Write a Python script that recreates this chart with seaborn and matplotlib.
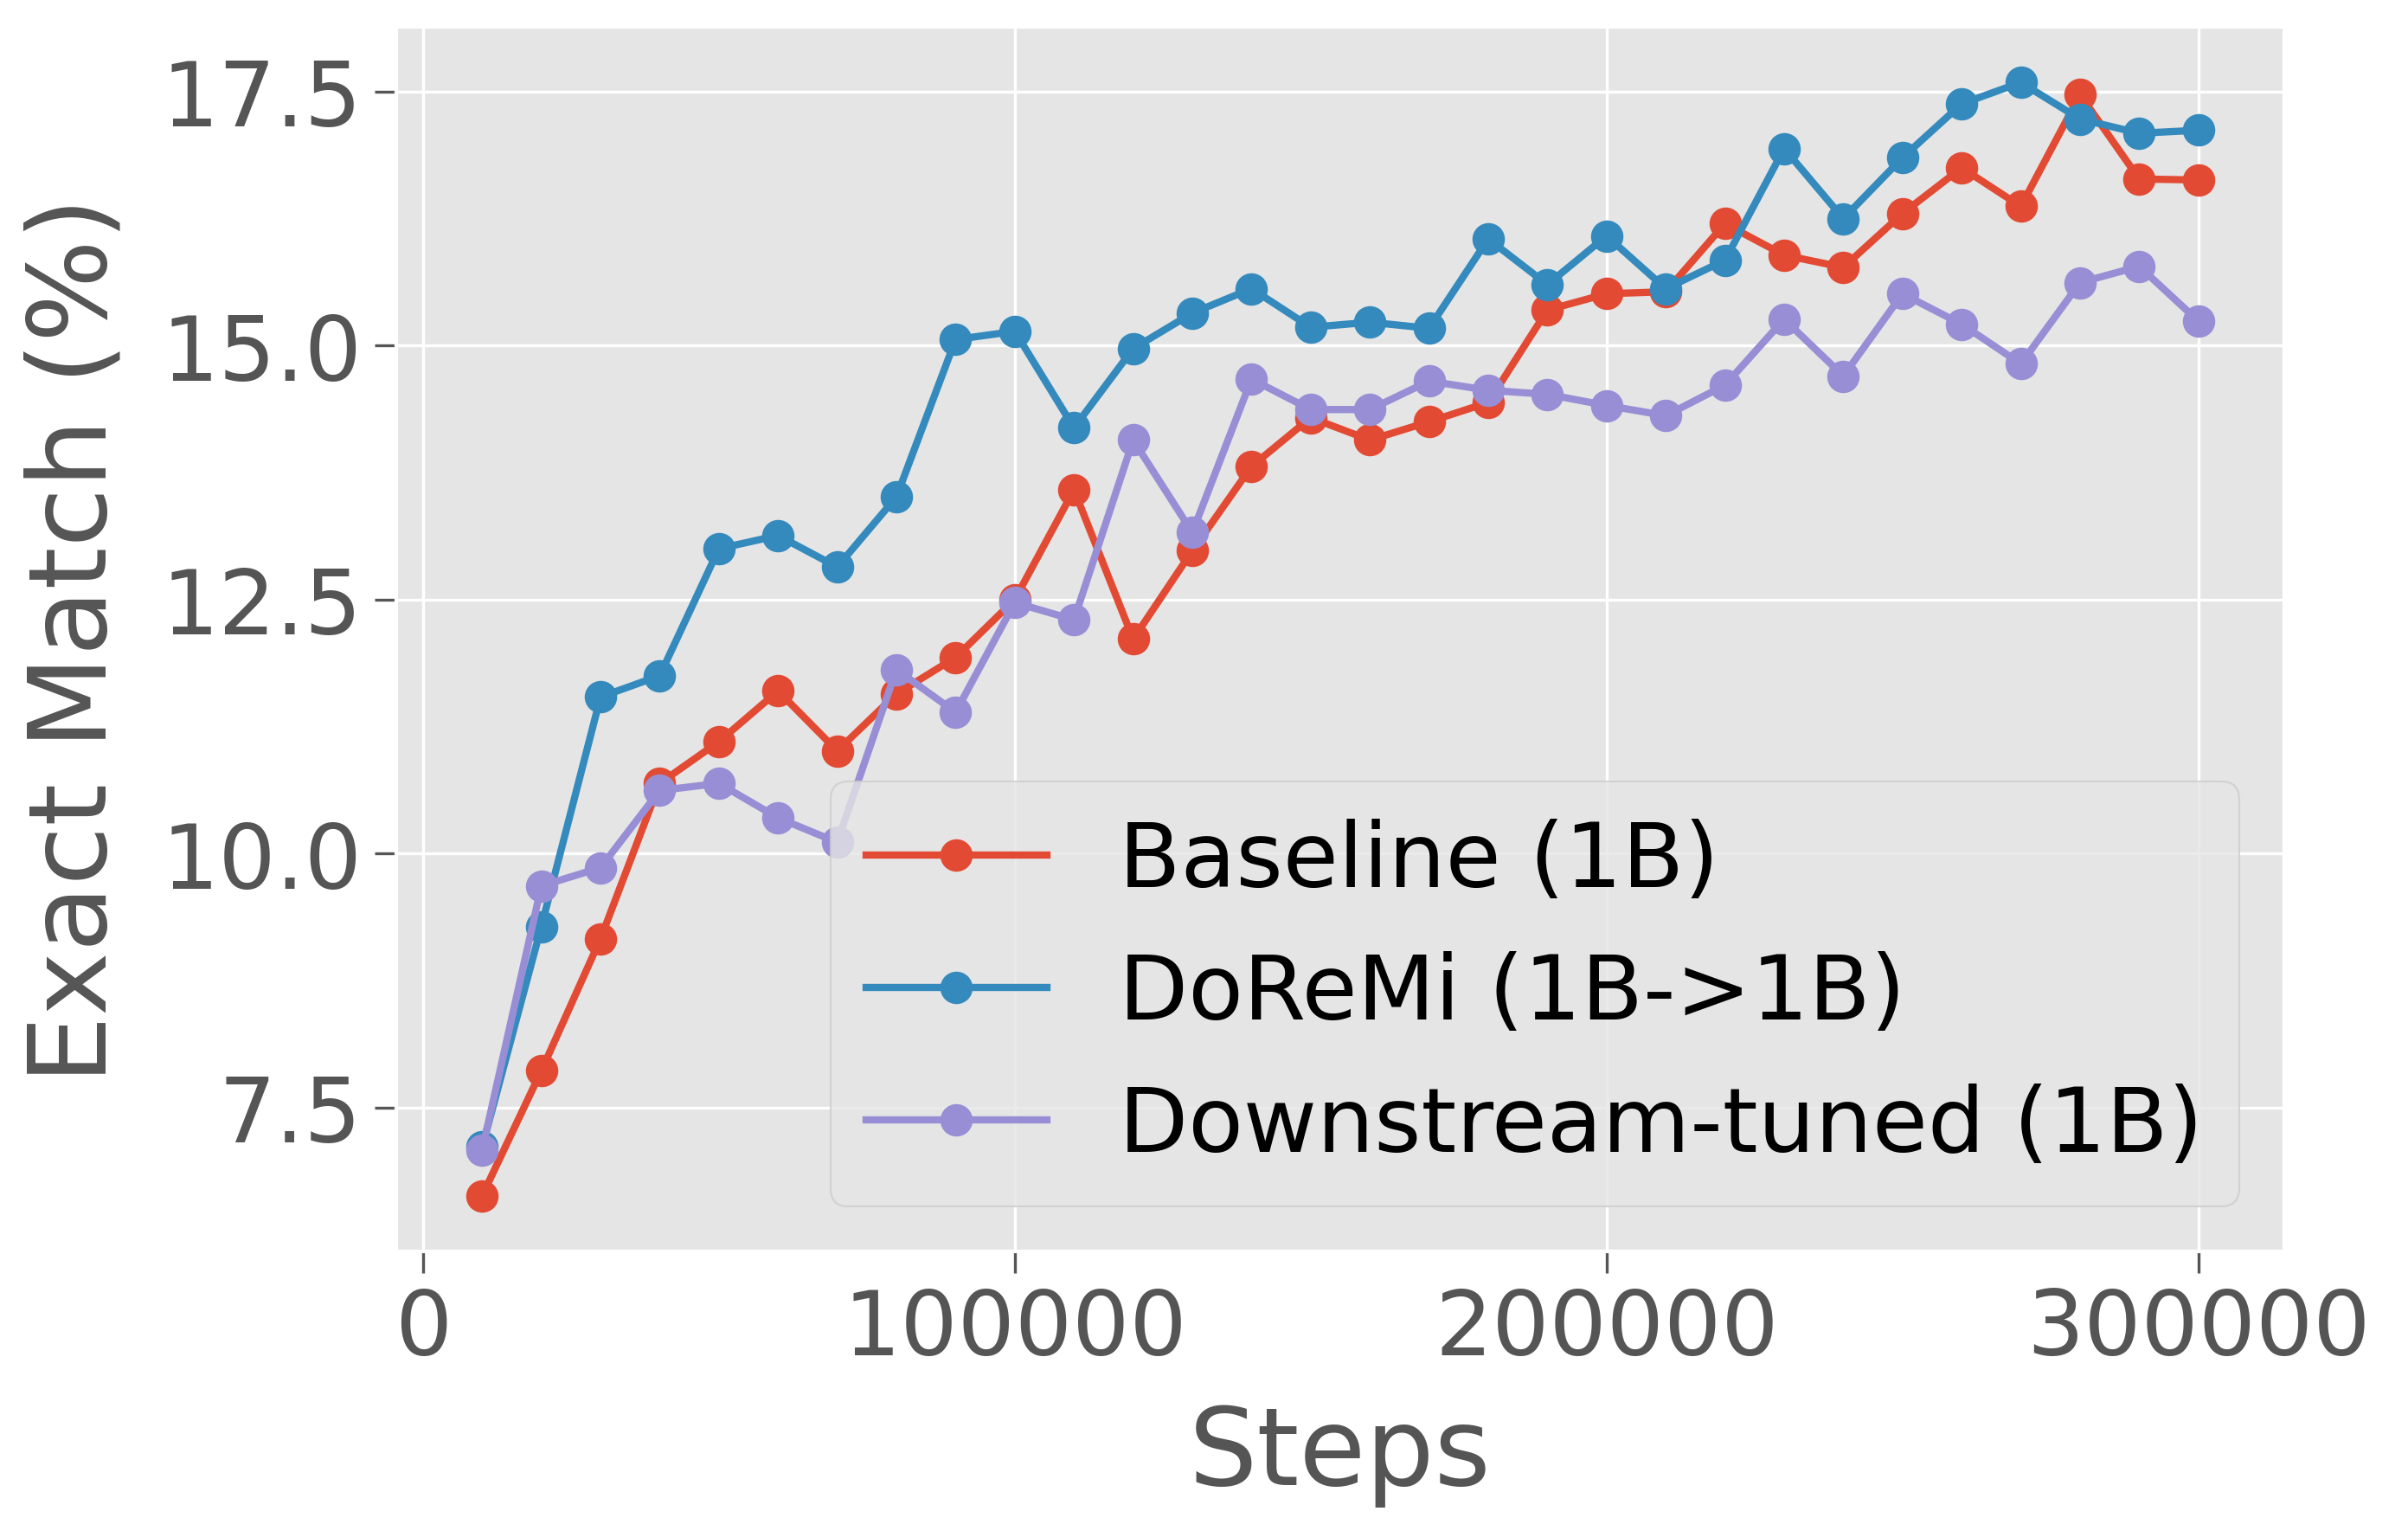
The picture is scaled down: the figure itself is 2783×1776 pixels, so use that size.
import pandas as pd
import matplotlib.pyplot as plt
import seaborn as sns
from matplotlib.ticker import MultipleLocator

# Evaluation steps
steps = list(range(10000, 300001, 10000))

# Exact match (%) per model
baseline = [6.63, 7.86, 9.16, 10.69, 11.10, 11.60, 11.01, 11.57, 11.93, 12.50,
            13.58, 12.11, 12.98, 13.81, 14.29, 14.07, 14.25, 14.44, 15.35, 15.51,
            15.53, 16.20, 15.89, 15.77, 16.30, 16.75, 16.37, 17.47, 16.64, 16.63]
doremi = [7.11, 9.28, 11.54, 11.75, 13.00, 13.13, 12.82, 13.51, 15.06, 15.14,
          14.19, 14.97, 15.32, 15.56, 15.18, 15.23, 15.17, 16.05, 15.60, 16.08,
          15.56, 15.84, 16.94, 16.25, 16.85, 17.38, 17.59, 17.23, 17.09, 17.12]
downstream = [7.08, 9.68, 9.86, 10.62, 10.69, 10.35, 10.11, 11.81, 11.39, 12.47,
              12.30, 14.07, 13.16, 14.67, 14.37, 14.37, 14.65, 14.56, 14.52, 14.41,
              14.31, 14.61, 15.26, 14.70, 15.51, 15.21, 14.82, 15.62, 15.78, 15.24]

labels = ['Baseline (1B)', 'DoReMi (1B->1B)', 'Downstream-tuned (1B)']
colors = ['#E24A33', '#348ABD', '#988ED5']

# Long-form table for seaborn
df = pd.DataFrame({
    'Steps': steps * 3,
    'Exact Match (%)': baseline + doremi + downstream,
    'Model': [labels[0]] * len(steps) + [labels[1]] * len(steps) + [labels[2]] * len(steps),
})

plt.style.use('ggplot')
fig = plt.figure(figsize=(2783 / 300, 1777 / 300), dpi=300)
ax = fig.add_axes([0.1646, 0.1857, 0.784, 0.7963])

sns.lineplot(data=df, x='Steps', y='Exact Match (%)', hue='Model',
             hue_order=labels, palette=colors, marker='o', markersize=9,
             markeredgewidth=0, linewidth=2, ax=ax)

ax.xaxis.set_major_locator(MultipleLocator(100000))
ax.set_xlabel('Steps', fontsize=30, color='#555555', labelpad=8)
ax.set_ylabel('Exact Match (%)', fontsize=30, color='#555555', labelpad=9)
ax.tick_params(axis='both', labelsize=25, colors='#555555', length=6)
ax.legend(loc='lower right', fontsize=25, title=None)

plt.savefig('out.png', dpi=300)
